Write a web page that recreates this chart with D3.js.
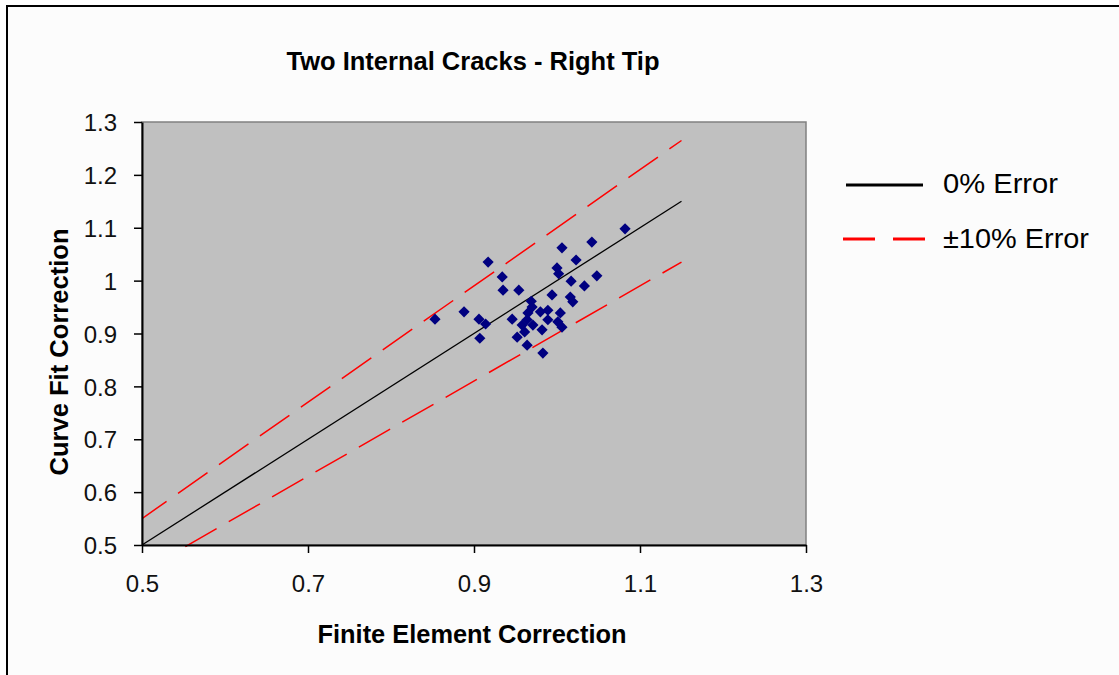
<!DOCTYPE html>
<html>
<head>
<meta charset="utf-8">
<script src="https://cdn.jsdelivr.net/npm/d3@7"></script>
<style>
  body { margin: 0; background: #ffffff; }
  svg { display: block; font-family: Arial, 'Liberation Sans', sans-serif; }
  .tick text { font-family: Arial, 'Liberation Sans', sans-serif; }
</style>
</head>
<body>
<div id="chart"></div>
<script>
// values
const feX = [1.082, 1.042, 1.006, 1.023, 0.917, 1.000, 1.002, 1.048, 0.934, 1.017,
             1.033, 0.935, 0.954, 0.994, 1.016, 1.019, 0.969, 0.970, 0.888, 0.853,
             0.906, 0.914, 0.946, 0.965, 0.964, 0.980, 0.989, 0.989, 1.004, 1.001,
             1.006, 0.971, 0.958, 0.961, 0.982, 0.907, 0.952, 0.964, 0.983];
const cfY = [1.098, 1.073, 1.062, 1.039, 1.035, 1.024, 1.013, 1.009, 1.007, 0.999,
             0.990, 0.982, 0.982, 0.973, 0.969, 0.960, 0.961, 0.950, 0.941, 0.927,
             0.927, 0.918, 0.927, 0.939, 0.926, 0.941, 0.944, 0.926, 0.939, 0.922,
             0.912, 0.916, 0.916, 0.903, 0.907, 0.891, 0.893, 0.878, 0.863];

// reference lines (end points)
const zeroLine = [[0.5, 0.5], [1.15, 1.15]];
const plusLine = [[0.5, 0.55], [1.15, 1.265]];
const minusLine = [[0.5, 0.45], [1.15, 1.035]];

const xTicks = [0.5, 0.7, 0.9, 1.1, 1.3];
const xTickLabels = ['0.5', '0.7', '0.9', '1.1', '1.3'];
const yTicks = [0.5, 0.6, 0.7, 0.8, 0.9, 1.0, 1.1, 1.2, 1.3];
const yTickLabels = ['0.5', '0.6', '0.7', '0.8', '0.9', '1', '1.1', '1.2', '1.3'];

const legendLabels = ['0% Error', '\u00B110% Error'];

const width = 1119;
const height = 675;

const svg = d3.select('#chart')
    .append('svg')
    .attr('width', width)
    .attr('height', height);

// chart frame
svg.append('rect')
    .attr('x', 7).attr('y', 6)
    .attr('width', width + 20).attr('height', height + 20)
    .attr('fill', '#fcfcfc')
    .attr('stroke', '#000')
    .attr('stroke-width', 2);

const x = d3.scaleLinear().domain([0.5, 1.3]).range([142, 806]);
const y = d3.scaleLinear().domain([0.5, 1.3]).range([545, 122]);

// plot area
svg.append('rect')
    .attr('x', x(0.5)).attr('y', y(1.3))
    .attr('width', x(1.3) - x(0.5))
    .attr('height', y(0.5) - y(1.3))
    .attr('fill', '#c0c0c0')
    .attr('stroke', '#808080')
    .attr('stroke-width', 1.5);

svg.append('clipPath')
    .attr('id', 'plotclip')
    .append('rect')
    .attr('x', x(0.5)).attr('y', y(1.3))
    .attr('width', x(1.3) - x(0.5))
    .attr('height', y(0.5) - y(1.3) + 4);

const line = d3.line()
    .x(d => x(d[0]))
    .y(d => y(d[1]));

const lines = svg.append('g').attr('clip-path', 'url(#plotclip)');

lines.append('path')
    .datum(plusLine)
    .attr('d', line)
    .attr('fill', 'none')
    .attr('stroke', '#ff0000')
    .attr('stroke-width', 1.5)
    .attr('stroke-dasharray', '36,14')
    .attr('stroke-dashoffset', 6);

lines.append('path')
    .datum(minusLine)
    .attr('d', line)
    .attr('fill', 'none')
    .attr('stroke', '#ff0000')
    .attr('stroke-width', 1.5)
    .attr('stroke-dasharray', '36,14')
    .attr('stroke-dashoffset', 0);

lines.append('path')
    .datum(zeroLine)
    .attr('d', line)
    .attr('fill', 'none')
    .attr('stroke', '#000')
    .attr('stroke-width', 1.3);

// points
const diamond = d3.symbol().type(d3.symbolDiamond2).size(80);
svg.append('g')
    .selectAll('path')
    .data(feX.map((v, i) => [v, cfY[i]]))
    .join('path')
    .attr('transform', d => 'translate(' + x(d[0]) + ',' + y(d[1]) + ')')
    .attr('d', diamond)
    .attr('fill', '#000080');

// axes
const xAxis = svg.append('g')
    .attr('transform', 'translate(0,' + y(0.5) + ')')
    .call(d3.axisBottom(x)
        .tickValues(xTicks)
        .tickSize(8)
        .tickSizeOuter(0)
        .tickPadding(22)
        .tickFormat((d, i) => xTickLabels[i]));

const yAxis = svg.append('g')
    .attr('transform', 'translate(' + x(0.5) + ',0)')
    .call(d3.axisLeft(y)
        .tickValues(yTicks)
        .tickSize(8)
        .tickSizeOuter(0)
        .tickPadding(17)
        .tickFormat((d, i) => yTickLabels[i]));

[xAxis, yAxis].forEach(a => {
    a.select('.domain').attr('stroke', '#000').attr('stroke-width', 2);
    a.selectAll('.tick line').attr('stroke', '#000').attr('stroke-width', 1.5);
    a.selectAll('.tick text')
        .attr('fill', '#111')
        .style('font-size', '24px');
});
yAxis.selectAll('.tick text').attr('dy', '0.36em');

// titles
svg.append('text')
    .attr('x', 473).attr('y', 70)
    .attr('text-anchor', 'middle')
    .attr('font-weight', 'bold')
    .attr('font-size', 25)
    .attr('textLength', 373)
    .attr('lengthAdjust', 'spacingAndGlyphs')
    .text('Two Internal Cracks - Right Tip');

svg.append('text')
    .attr('x', 472).attr('y', 643)
    .attr('text-anchor', 'middle')
    .attr('font-weight', 'bold')
    .attr('font-size', 25)
    .attr('textLength', 309)
    .attr('lengthAdjust', 'spacingAndGlyphs')
    .text('Finite Element Correction');

svg.append('text')
    .attr('transform', 'translate(68,352) rotate(-90)')
    .attr('text-anchor', 'middle')
    .attr('font-weight', 'bold')
    .attr('font-size', 25)
    .attr('textLength', 247)
    .attr('lengthAdjust', 'spacingAndGlyphs')
    .text('Curve Fit Correction');

// legend
const legend = svg.append('g');
legend.append('line')
    .attr('x1', 846).attr('x2', 923)
    .attr('y1', 185).attr('y2', 185)
    .attr('stroke', '#000')
    .attr('stroke-width', 3);
legend.append('line')
    .attr('x1', 843).attr('x2', 925)
    .attr('y1', 239).attr('y2', 239)
    .attr('stroke', '#ff0000')
    .attr('stroke-width', 3)
    .attr('stroke-dasharray', '32,18');

legend.selectAll('text')
    .data(legendLabels)
    .join('text')
    .attr('x', 943)
    .attr('y', (d, i) => 193 + i * 55)
    .attr('font-size', 27)
    .attr('textLength', (d, i) => i === 0 ? 115 : 146)
    .attr('lengthAdjust', 'spacingAndGlyphs')
    .text(d => d);
</script>
</body>
</html>
